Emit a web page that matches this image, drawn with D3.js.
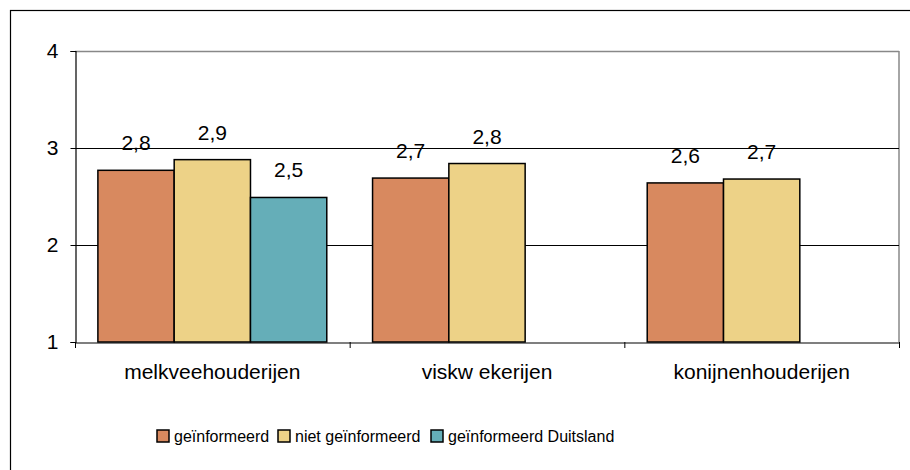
<!DOCTYPE html>
<html>
<head>
<meta charset="utf-8">
<script src="https://cdn.jsdelivr.net/npm/d3@7"></script>
<style>
  body { margin: 0; background: #fff; }
  svg { display: block; font-family: "Liberation Sans", Arial, sans-serif; }
</style>
</head>
<body>
<script>
var categories = ["melkveehouderijen", "viskw ekerijen", "konijnenhouderijen"];
var seriesNames = ["geïnformeerd", "niet geïnformeerd", "geïnformeerd Duitsland"];
var geinformeerd = [2.77, 2.69, 2.64];
var nietGeinformeerd = [2.88, 2.84, 2.68];
var geinformeerdDuitsland = [2.49, null, null];
var yTicks = [1, 2, 3, 4];
var colors = ["#D8895F", "#EDD287", "#65AEB8"];

var w = 910;
var h = 470;
var plotLeft = 75, plotRight = 899, plotTop = 51, plotBottom = 342;

var svg = d3.select("body")
  .append("svg")
  .attr("width", w)
  .attr("height", h);

// outer chart border (runs off the right and bottom edge)
svg.append("rect")
  .attr("x", 10.5)
  .attr("y", 10.5)
  .attr("width", 920)
  .attr("height", 480)
  .attr("fill", "none")
  .attr("stroke", "#000")
  .attr("stroke-width", 1.2);

var x0 = d3.scaleBand()
  .domain(categories)
  .range([plotLeft, plotRight])
  .padding(0);

var x1 = d3.scaleBand()
  .domain(d3.range(seriesNames.length))
  .range([0, x0.bandwidth()])
  .paddingInner(0)
  .paddingOuter(0.3);

var y = d3.scaleLinear()
  .domain([1, 4])
  .range([plotBottom, plotTop]);

// plot frame: top and right in gray
svg.append("line")
  .attr("x1", plotLeft).attr("x2", plotRight)
  .attr("y1", y(4) + 0.5).attr("y2", y(4) + 0.5)
  .attr("stroke", "#888").attr("stroke-width", 1.5);
svg.append("line")
  .attr("x1", plotRight).attr("x2", plotRight)
  .attr("y1", plotTop).attr("y2", plotBottom)
  .attr("stroke", "#888").attr("stroke-width", 1.5);

// gridlines
svg.selectAll("line.grid")
  .data(yTicks.filter(function(d) { return d > 1 && d < 4; }))
  .enter()
  .append("line")
  .attr("class", "grid")
  .attr("x1", plotLeft).attr("x2", plotRight)
  .attr("y1", function(d) { return Math.round(y(d)) + 0.5; })
  .attr("y2", function(d) { return Math.round(y(d)) + 0.5; })
  .attr("stroke", "#000")
  .attr("stroke-width", 1);

// bars
var series = [geinformeerd, nietGeinformeerd, geinformeerdDuitsland];
var bars = [];
series.forEach(function(vals, s) {
  vals.forEach(function(v, c) {
    if (v !== null) bars.push({ s: s, c: categories[c], value: v });
  });
});

svg.selectAll("rect.bar")
  .data(bars)
  .enter()
  .append("rect")
  .attr("class", "bar")
  .attr("x", function(d) { return x0(d.c) + x1(d.s); })
  .attr("y", function(d) { return y(d.value); })
  .attr("width", x1.bandwidth())
  .attr("height", function(d) { return y(1) - y(d.value); })
  .attr("fill", function(d) { return colors[d.s]; })
  .attr("stroke", "#000")
  .attr("stroke-width", 1.5);

svg.selectAll("text.value")
  .data(bars)
  .enter()
  .append("text")
  .attr("class", "value")
  .text(function(d) { return d3.format(".1f")(d.value).replace(".", ","); })
  .attr("x", function(d) { return x0(d.c) + x1(d.s) + x1.bandwidth() / 2; })
  .attr("y", function(d) { return y(d.value) - 20; })
  .attr("font-size", "21px")
  .attr("fill", "#000")
  .attr("text-anchor", "middle");

// y axis
var yAxis = svg.append("g")
  .attr("transform", "translate(" + (plotLeft + 0.5) + ",0)")
  .call(d3.axisLeft(y).tickValues(yTicks).tickSize(5).tickPadding(12).tickFormat(d3.format("d")));
yAxis.select(".domain").attr("stroke", "#000").attr("stroke-width", 1.2);
yAxis.selectAll(".tick line").attr("stroke", "#000");
yAxis.selectAll(".tick text")
  .attr("font-size", "21px")
  .attr("font-family", "Liberation Sans, Arial, sans-serif")
  .attr("fill", "#000");

// x axis
var xAxis = svg.append("g")
  .attr("transform", "translate(0," + (plotBottom + 0.5) + ")")
  .call(d3.axisBottom(x0).tickSize(0).tickPadding(22));
xAxis.select(".domain").attr("stroke", "#000").attr("stroke-width", 1.2);
xAxis.selectAll(".tick text")
  .attr("font-size", "21px")
  .attr("font-family", "Liberation Sans, Arial, sans-serif")
  .attr("fill", "#000");

// category separator ticks
var seps = categories.map(function(c) { return x0(c); }).concat([plotRight]);
svg.selectAll("line.sep")
  .data(seps)
  .enter()
  .append("line")
  .attr("class", "sep")
  .attr("x1", function(d) { return d + 0.5; })
  .attr("x2", function(d) { return d + 0.5; })
  .attr("y1", plotBottom)
  .attr("y2", plotBottom + 6)
  .attr("stroke", "#000");

// legend
var legendX = [157, 278, 431];
var legend = svg.selectAll("g.legend")
  .data(seriesNames)
  .enter()
  .append("g")
  .attr("class", "legend")
  .attr("transform", function(d, i) { return "translate(" + legendX[i] + ",430)"; });

legend.append("rect")
  .attr("width", 12)
  .attr("height", 12)
  .attr("fill", function(d, i) { return colors[i]; })
  .attr("stroke", "#000")
  .attr("stroke-width", 1.5);

legend.append("text")
  .text(function(d) { return d; })
  .attr("x", 17)
  .attr("y", 12)
  .attr("font-size", "16px")
  .attr("fill", "#000");
</script>
</body>
</html>
